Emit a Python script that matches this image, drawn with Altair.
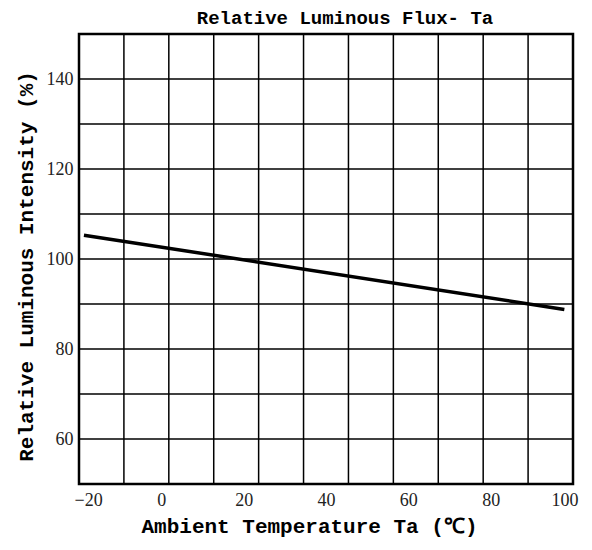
import altair as alt
import pandas as pd

# data
line_x = [-18.8, 97.9]
line_y = [105.3, 88.8]
x_tick_values = [-20, 0, 20, 40, 60, 80, 100]
y_tick_values = [60, 80, 100, 120, 140]
y_grid_values = [60, 70, 80, 90, 100, 110, 120, 130, 140]
x_grid_count = 11  # the reference grid has 11 equal columns over -20..100
x_grid_values = [-20 + k * 120 / x_grid_count for k in range(1, x_grid_count)]

line_df = pd.DataFrame({"x": line_x, "y": line_y})
xg_df = pd.DataFrame({"x": x_grid_values})
yg_df = pd.DataFrame({"y": y_grid_values})

xscale = alt.Scale(domain=[-20, 100], nice=False, zero=False)
yscale = alt.Scale(domain=[50, 150], nice=False, zero=False)

title_font = "Liberation Mono"
tick_font = "Liberation Serif"

xaxis = alt.Axis(
    values=x_tick_values, grid=False, ticks=False, domain=False,
    labelFont=tick_font, labelFontSize=18, labelColor="#222", labelPadding=7,
    labelFlush=True, labelFlushOffset=5,
    title="Ambient Temperature Ta (℃)", titleFont=title_font, titleFontSize=21,
    titleFontWeight="bold", titleColor="#000",
    titleX=230, titleY=42, titleAlign="center", titleBaseline="middle",
)
yaxis = alt.Axis(
    values=y_tick_values, grid=False, ticks=False, domain=False,
    labelFont=tick_font, labelFontSize=18, labelColor="#222", labelPadding=6,
    title="Relative Luminous Intensity (%)", titleFont=title_font, titleFontSize=21,
    titleFontWeight="bold", titleColor="#000",
    titleX=-53, titleY=232, titleAngle=-90, titleAlign="center", titleBaseline="middle",
)

xgrid = alt.Chart(xg_df).mark_rule(color="#000", strokeWidth=1.5).encode(
    x=alt.X("x:Q", scale=xscale, axis=xaxis)
)
ygrid = alt.Chart(yg_df).mark_rule(color="#000", strokeWidth=1.5).encode(
    y=alt.Y("y:Q", scale=yscale, axis=yaxis)
)
line = alt.Chart(line_df).mark_line(color="#000", strokeWidth=3.5).encode(
    x=alt.X("x:Q", scale=xscale),
    y=alt.Y("y:Q", scale=yscale),
)

chart = alt.layer(xgrid, ygrid, line).properties(
    width=494, height=450,
    autosize=alt.AutoSizeParams(type="none"),
    padding={"left": 71, "top": 26, "right": 10, "bottom": 66},
    background="white",
    title=alt.TitleParams(
        "Relative Luminous Flux- Ta", font=title_font, fontSize=19,
        fontWeight="bold", color="#000", dx=19, offset=5,
    ),
).configure_view(stroke="#000", strokeWidth=2.5)

chart.save("out.html", embed_options={"renderer": "svg", "actions": False})
